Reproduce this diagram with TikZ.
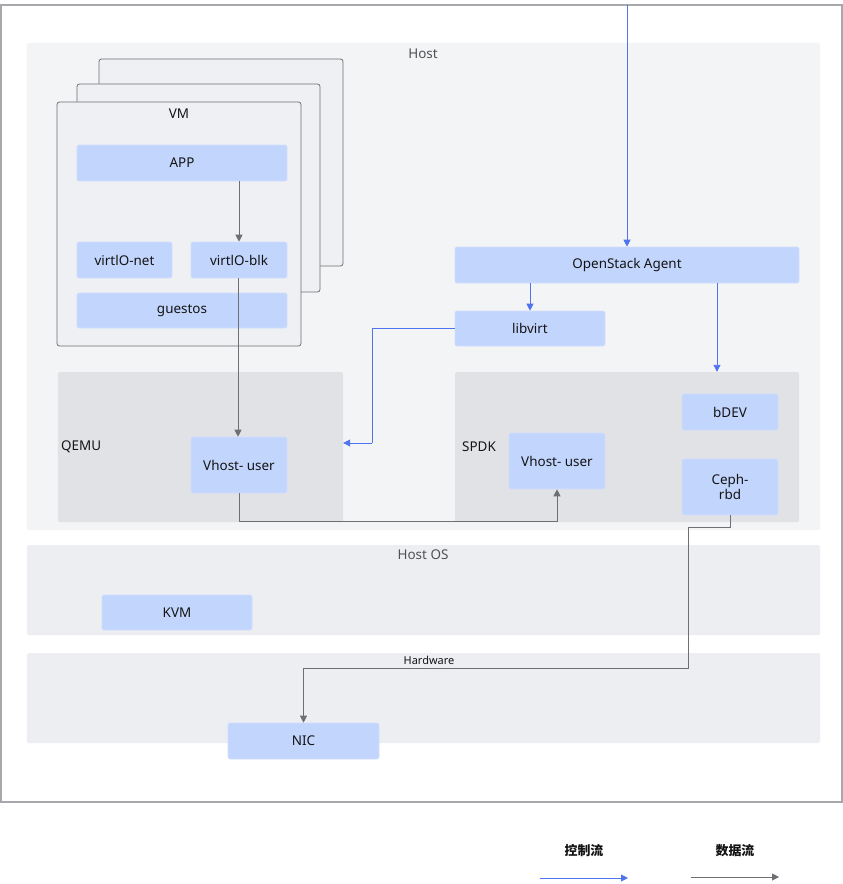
\documentclass[tikz,border=0pt]{standalone}
\usepackage{fontspec}
\setmainfont{Noto Sans}
\newfontfamily\cjk{Noto Sans CJK SC}
\usetikzlibrary{arrows.meta}
\definecolor{boxblue}{RGB}{194,213,253}
\definecolor{boxedge}{RGB}{210,222,252}
\definecolor{hostbg}{RGB}{243,244,246}
\definecolor{osbg}{RGB}{237,238,242}
\definecolor{procbg}{RGB}{225,226,230}
\definecolor{vmbg}{RGB}{238,240,243}
\definecolor{vmedge}{RGB}{112,112,116}
\definecolor{ctrl}{RGB}{80,116,240}
\definecolor{datal}{RGB}{110,110,115}
\definecolor{frame}{RGB}{168,168,172}
\definecolor{txt}{RGB}{20,20,20}
\definecolor{lbl}{RGB}{80,80,85}
\tikzset{
  bluebox/.style={draw=boxedge, line width=0.6bp, fill=boxblue, rounded corners=2bp, inner sep=0pt, text=txt, font=\fontsize{13.5}{15.5}\selectfont, align=center},
  region/.style={fill=#1, draw=none, rounded corners=1.5bp, inner sep=0pt},
  vmbox/.style={draw=vmedge, line width=0.8bp, fill=vmbg, rounded corners=2.5bp, inner sep=0pt},
  lab/.style={text=lbl, font=\fontsize{13.5}{15.5}\selectfont, inner sep=0pt},
  plab/.style={text=txt, font=\fontsize{13.5}{15.5}\selectfont, inner sep=0pt, anchor=west},
  ctrlarrow/.style={draw=ctrl, line width=0.9bp, -{Triangle[length=7bp,width=7bp]}},
  dataarrow/.style={draw=datal, line width=0.9bp, -{Triangle[length=7bp,width=7bp]}},
  ctrlline/.style={draw=ctrl, line width=0.9bp}
}
\begin{document}
\begin{tikzpicture}[x=1bp,y=-1bp]
\useasboundingbox (0,0) rectangle (843,884);
\fill[white] (0,0) rectangle (843,884);
% outer frame
\draw[frame, line width=1.3bp] (1,5) rectangle (842,802);
% regions
\node[region=hostbg, minimum width=793bp, minimum height=487bp] (host) at (423.5,286.5) {};
\node[region=osbg, minimum width=793bp, minimum height=90bp] (hostos) at (423.5,590) {};
\node[region=osbg, minimum width=793bp, minimum height=90bp] (hw) at (423.5,698) {};
\node[lab] (hostlab) at (423,54) {Host};
\node[lab] (hostoslab) at (423,555) {Host OS};
\node[text=txt, font=\fontsize{11}{13}\selectfont, inner sep=0pt] (hwlab) at (429,660.5) {Hardware};
% VM stack
\node[vmbox, minimum width=244bp, minimum height=207bp] (vm3) at (221,162.5) {};
\node[vmbox, minimum width=243bp, minimum height=208bp] (vm2) at (198.5,188) {};
\node[vmbox, minimum width=244bp, minimum height=244bp] (vm1) at (179,224) {};
\node[text=txt, font=\fontsize{13.5}{15.5}\selectfont, inner sep=0pt] (vmlab) at (179,114) {VM};
\node[bluebox, minimum width=210bp, minimum height=36bp] (app) at (182,163) {APP};
\node[bluebox, minimum width=95bp, minimum height=36bp] (vnet) at (124.5,260) {virtlO-net};
\node[bluebox, minimum width=96bp, minimum height=36bp] (vblk) at (239,260) {virtlO-blk};
\node[bluebox, minimum width=210bp, minimum height=35bp] (guest) at (182,310.5) {guestos};
% QEMU and SPDK
\node[region=procbg, minimum width=285bp, minimum height=150bp] (qemu) at (200.5,447) {};
\node[plab] (qemulab) at (61,447) {QEMU};
\node[bluebox, minimum width=96bp, minimum height=56bp] (qvh) at (239,465) {Vhost- user};
\node[region=procbg, minimum width=344bp, minimum height=150bp] (spdk) at (627,447) {};
\node[plab] (spdklab) at (462,447) {SPDK};
\node[bluebox, minimum width=96bp, minimum height=56bp] (svh) at (557,461) {Vhost- user};
\node[bluebox, minimum width=96bp, minimum height=36bp] (bdev) at (730,412) {bDEV};
\node[bluebox, minimum width=96bp, minimum height=56bp] (ceph) at (730,487) {Ceph-\\rbd};
% agent and libvirt
\node[bluebox, minimum width=344bp, minimum height=36bp] (agent) at (627,265) {OpenStack Agent};
\node[bluebox, minimum width=150bp, minimum height=35bp] (libvirt) at (530,328.5) {libvirt};
% host os / hw
\node[bluebox, minimum width=150bp, minimum height=35bp] (kvm) at (177,612.5) {KVM};
\node[bluebox, minimum width=151bp, minimum height=36bp] (nic) at (303.5,741) {NIC};
% control flow
\coordinate (topin) at (627,5);
\draw[ctrlarrow] (topin) -- (agent.north);
\draw[ctrlarrow] (agent.south -| libvirt.north) -- (libvirt.north);
\draw[ctrlarrow] ([xshift=90bp]agent.south) -- ([xshift=90bp]agent.south |- spdk.north);
\coordinate (lv1) at (372,443);
\draw[ctrlline] (libvirt.west) -| (lv1);
\draw[ctrlarrow] (lv1) -- (qemu.east |- lv1);
% data flow
\draw[dataarrow] (app.south -| vblk.north) -- (vblk.north);
\draw[dataarrow] ([xshift=-1bp]vblk.south) -- ([xshift=-1bp]qvh.north);
\coordinate (d1) at (239,521);
\draw[dataarrow] (qvh.south) -- (d1) -| (svh.south);
\coordinate (c1) at (688,527);
\coordinate (c2) at (688,668);
\draw[dataarrow] (ceph.south) |- (c1) -- (c2) -| (nic.north);
% legend
\node[text=txt, font=\cjk\bfseries\fontsize{13}{15}\selectfont, inner sep=0pt] (lgc) at (584,851) {控制流};
\node[text=txt, font=\cjk\bfseries\fontsize{13}{15}\selectfont, inner sep=0pt] (lgd) at (735,851) {数据流};
\coordinate (lc1) at (540,878);
\coordinate (lc2) at (628,878);
\coordinate (ld1) at (691,877);
\coordinate (ld2) at (779,877);
\draw[ctrlarrow] (lc1) -- (lc2);
\draw[dataarrow] (ld1) -- (ld2);
\end{tikzpicture}
\end{document}
